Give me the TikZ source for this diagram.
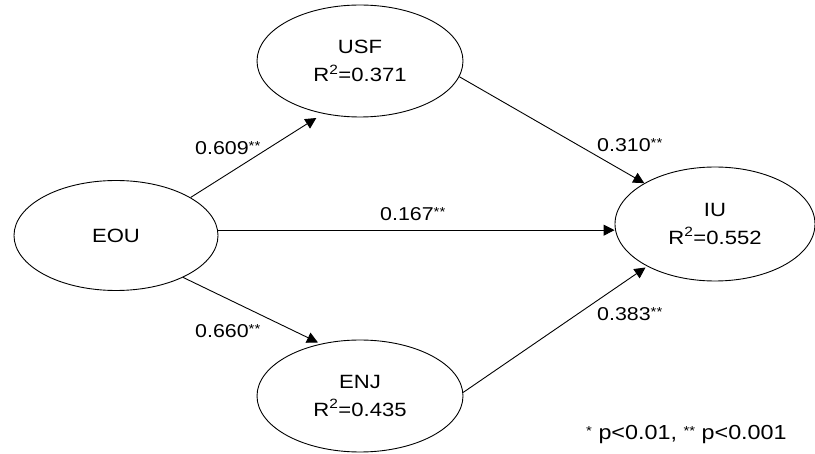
\documentclass[tikz,border=0pt]{standalone}
\usepackage{fontspec}
\setmainfont{Liberation Sans}[FakeStretch=1.15]
\usepackage{tikz}
\usetikzlibrary{shapes.geometric,arrows.meta,calc}
\newcommand{\sig}[1]{\raisebox{0.22em}{\fontsize{13}{13}\selectfont #1}}

\begin{document}
\begin{tikzpicture}[x=1pt, y=-1pt, every node/.style={font=\fontsize{19.2}{28}\selectfont, align=center},
        construct/.style={draw, ellipse, line width=0.9pt, inner sep=0pt},
        link/.style={-{Triangle[length=11pt,width=11pt]}, line width=0.9pt},
        coef/.style={anchor=base west, inner sep=0pt, font=\fontsize{18.6}{18.6}\selectfont}]
        \useasboundingbox (0,0) rectangle (815,454);
        \node[construct, minimum width=204pt, minimum height=110pt] (eou) at (116,235.5) {EOU};
        \node[construct, minimum width=206pt, minimum height=112pt] (usf) at (360,61) {USF\\R\textsuperscript{2}=0.371};
        \node[construct, minimum width=206pt, minimum height=112pt] (enj) at (360,396) {ENJ\\R\textsuperscript{2}=0.435};
        \node[construct, minimum width=200pt, minimum height=114pt] (iu) at (715,224) {IU\\R\textsuperscript{2}=0.552};
        % paths
        \draw[link, shorten >=8pt] (eou.27) -- (usf.235);
        \draw[link, shorten >=3pt] (eou.-32) -- (enj.127);
        \draw[link] (eou.3) -- (eou.3 -| iu.west);
        \draw[link] (usf.-9) -- (iu.150);
        \draw[link, shorten >=2pt] (enj.2) -- (iu.212);
        % path coefficients
        \node[coef] (c1) at (195,155) {0.609\sig{**}};
        \node[coef] (c2) at (195,338) {0.660\sig{**}};
        \node[coef] (c3) at (380,221) {0.167\sig{**}};
        \node[coef] (c4) at (597,152) {0.310\sig{**}};
        \node[coef] (c5) at (597,321) {0.383\sig{**}};
        \node[coef, font=\fontsize{20.3}{20.3}\selectfont] (note) at (586,440) {\sig{*} p<0.01, \sig{**} p<0.001};
    \end{tikzpicture}
\end{document}
